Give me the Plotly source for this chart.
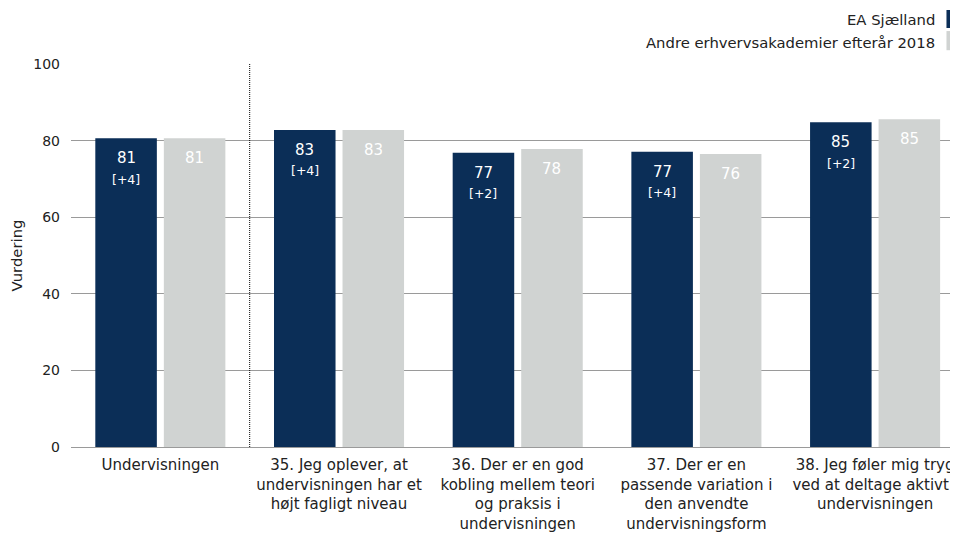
import plotly.graph_objects as go

# data
categories = [
    "Undervisningen",
    "35. Jeg oplever, at<br>undervisningen har et<br>højt fagligt niveau",
    "36. Der er en god<br>kobling mellem teori<br>og praksis i<br>undervisningen",
    "37. Der er en<br>passende variation i<br>den anvendte<br>undervisningsform",
    "38. Jeg føler mig tryg<br>ved at deltage aktivt i<br>undervisningen",
]
ea_values = [80.6, 82.8, 76.8, 77.1, 84.8]
ea_labels = ["81", "83", "77", "77", "85"]
ea_change = ["[+4]", "[+4]", "[+2]", "[+4]", "[+2]"]
other_values = [80.6, 82.8, 77.8, 76.5, 85.6]
other_labels = ["81", "83", "78", "76", "85"]

series_names = ["EA Sjælland", "Andre erhvervsakademier efterår 2018"]
DARK = "#0b2e57"
LIGHT = "#d0d3d2"
FONT = "DejaVu Sans"
TXT = "#222222"

fig = go.Figure()
fig.add_trace(go.Bar(
    x=categories, y=ea_values, name=series_names[0],
    marker=dict(color=DARK, line=dict(width=0)),
))
fig.add_trace(go.Bar(
    x=categories, y=other_values, name=series_names[1],
    marker=dict(color=LIGHT, line=dict(width=0)),
))

# value labels near the top of each bar (bars sit ~34px left/right of the category centre)
SHIFT = 34.25
for cat, v, lab, chg in zip(categories, ea_values, ea_labels, ea_change):
    fig.add_annotation(x=cat, y=v, xref="x", yref="y", text=lab, showarrow=False,
                       xshift=-SHIFT, yshift=-20, yanchor="middle",
                       font=dict(size=15, color="white", family=FONT))
    fig.add_annotation(x=cat, y=v, xref="x", yref="y", text=chg, showarrow=False,
                       xshift=-SHIFT, yshift=-41, yanchor="middle",
                       font=dict(size=12.5, color="white", family=FONT))
for cat, v, lab in zip(categories, other_values, other_labels):
    fig.add_annotation(x=cat, y=v, xref="x", yref="y", text=lab, showarrow=False,
                       xshift=SHIFT, yshift=-20, yanchor="middle",
                       font=dict(size=15, color="white", family=FONT))

# dotted separator after the first category
fig.add_shape(
    type="line", xref="x", yref="y",
    x0=0.5, x1=0.5, y0=0, y1=100.5,
    line=dict(color="black", width=1, dash="1px,1px"),
)

# legend drawn by hand: text to the left of the swatch
# (paper coords: plot area is 887 x 383 px)
legend_rows = [(1.115, 1.094, 1.141), (1.055, 1.036, 1.086)]
for name, col, (yt, y0, y1) in zip(series_names, [DARK, LIGHT], legend_rows):
    fig.add_annotation(
        x=0.976, y=yt, xref="paper", yref="paper",
        text=name, showarrow=False, xanchor="right", yanchor="middle",
        font=dict(size=14.8, color=TXT, family=FONT),
    )
    fig.add_shape(
        type="rect", xref="paper", yref="paper",
        x0=0.987, x1=1.01, y0=y0, y1=y1,
        fillcolor=col, line=dict(width=0),
    )

# the page body adds an 8px offset; the plot area ends at the window edge
fig.update_layout(
    width=958, height=528,
    margin=dict(l=63, r=8, t=56, b=89, autoexpand=False),
    barmode="group", bargap=0.233, bargroupgap=0.102,
    plot_bgcolor="white", paper_bgcolor="white",
    showlegend=False,
    font=dict(family=FONT, size=14, color=TXT),
)
fig.update_xaxes(
    range=[-0.5, 4.464], showgrid=False, ticks="",
    tickfont=dict(size=15), showline=False,
    ticklabelstandoff=7, automargin=False,
)
fig.update_yaxes(
    range=[0, 100], dtick=20, showgrid=True, gridcolor="#9a9a9a",
    gridwidth=1, zeroline=True, zerolinecolor="#9a9a9a", zerolinewidth=1,
    title=dict(text="Vurdering", font=dict(size=14.8), standoff=14),
    tickfont=dict(size=14), ticks="", ticklabelstandoff=10,
    automargin=False,
)
fig.write_html("out.html")
